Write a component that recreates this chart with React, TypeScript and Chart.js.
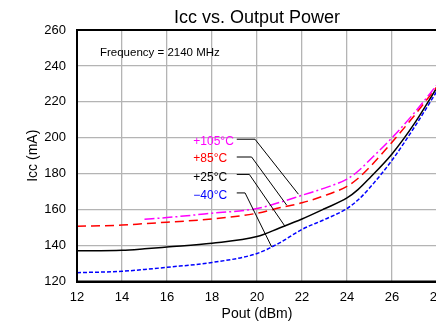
import React, { useEffect, useRef } from "react";
import { Chart, registerables } from "chart.js";

Chart.register(...registerables);

// ---- data ----
const poutDbm = [12, 14, 15, 16, 18, 20, 21, 22, 23, 24, 24.5, 25, 26, 27, 28];
const icc105 = [null, null, 154.7, 155.6, 158, 160.6, 164, 168, 172, 177, 181.5, 187.5, 200, 214, 229.5];
const icc85 = [150.8, 151.4, 152.2, 153.0, 154.8, 158, 161, 163.8, 167.8, 173, 177.5, 183.5, 197.5, 212.5, 228.5];
const icc25 = [137.1, 137.4, 138.2, 139.2, 141.3, 145, 149.8, 154.8, 160.5, 166.5, 171.3, 177.5, 191, 208, 228];
const iccM40 = [124.9, 125.7, 126.7, 127.9, 130.6, 135.6, 141.5, 149, 154.5, 160.6, 165.5, 172, 187.5, 206, 226];

const xTicks = [12, 14, 16, 18, 20, 22, 24, 26, 28];
const yTicks = [120, 140, 160, 180, 200, 220, 240, 260];

const tempLabels = ["+105°C", "+85°C", "+25°C", "\u221240°C"];
const tempColors = ["#ff00ff", "#ff0000", "#000000", "#0000ff"];
const labelX = [17.17, 17.17, 17.17, 17.17];
const labelY = [198.1, 188.1, 177.7, 167.5];
const leaderStartX = [19.1, 19.1, 19.1, 19.1];
const leaderY = [199.2, 189.3, 179.6, 169.3];
const leaderCornerX = [19.91, 19.76, 19.66, 19.47];
const leaderEndX = [21.84, 21.32, 21.24, 20.65];
const leaderEndY = [168.6, 162.5, 150.8, 139.3];

const freqText = "Frequency = 2140 MHz";
const freqX = 13.02;
const freqY = 247.5;

const FONT = "'Liberation Sans', Arial, sans-serif";

const annotationPlugin = {
  id: "annot",
  afterDatasetsDraw(chart: any) {
    const { ctx, chartArea, scales } = chart;
    const xs = scales.x;
    const ys = scales.y;
    ctx.save();
    // frame
    ctx.strokeStyle = "#000";
    ctx.lineWidth = 2;
    ctx.strokeRect(chartArea.left, chartArea.top, chartArea.right - chartArea.left, chartArea.bottom - chartArea.top);
    // frequency text
    ctx.fillStyle = "#000";
    ctx.font = `11.5px ${FONT}`;
    ctx.textAlign = "left";
    ctx.textBaseline = "middle";
    ctx.fillText(freqText, xs.getPixelForValue(freqX), ys.getPixelForValue(freqY));
    // temp labels + leaders
    ctx.font = `12px ${FONT}`;
    for (let i = 0; i < tempLabels.length; i++) {
      ctx.fillStyle = tempColors[i];
      ctx.fillText(tempLabels[i], xs.getPixelForValue(labelX[i]), ys.getPixelForValue(labelY[i]));
      ctx.strokeStyle = "#000";
      ctx.lineWidth = 1;
      ctx.beginPath();
      ctx.moveTo(xs.getPixelForValue(leaderStartX[i]), ys.getPixelForValue(leaderY[i]));
      ctx.lineTo(xs.getPixelForValue(leaderCornerX[i]), ys.getPixelForValue(leaderY[i]));
      ctx.lineTo(xs.getPixelForValue(leaderEndX[i]), ys.getPixelForValue(leaderEndY[i]));
      ctx.stroke();
    }
    ctx.restore();
  },
};

export default function App() {
  const ref = useRef<HTMLCanvasElement>(null);
  useEffect(() => {
    Chart.defaults.font.family = FONT;
    Chart.defaults.color = "#000";
    const mk = (label: string, data: any[], color: string, dash: number[], w: number) => ({
      label,
      data: poutDbm.map((x, i) => ({ x, y: data[i] })),
      borderColor: color,
      backgroundColor: color,
      borderWidth: w,
      borderDash: dash,
      pointRadius: 0,
      cubicInterpolationMode: "monotone" as const,
      spanGaps: false,
      fill: false,
    });
    const chart = new Chart(ref.current!, {
      type: "line",
      data: {
        datasets: [
          mk("+105°C", icc105, "#ff00ff", [10, 3, 2, 3], 1.5),
          mk("+85°C", icc85, "#ff0000", [9, 5], 1.5),
          mk("+25°C", icc25, "#000000", [], 1.5),
          mk("-40°C", iccM40, "#0000ff", [4, 2], 1.5),
        ],
      },
      options: {
        animation: false,
        responsive: true,
        maintainAspectRatio: false,
        layout: { padding: 0 },
        plugins: {
          legend: { display: false },
          tooltip: { enabled: false },
          title: {
            display: true,
            fullSize: false,
            text: "Icc vs. Output Power",
            color: "#000",
            font: { size: 18, weight: "normal" as any, family: FONT },
            padding: { top: 7, bottom: 1.4 },
          },
        },
        scales: {
          x: {
            type: "linear",
            min: 12,
            max: 28,
            afterBuildTicks: (s: any) => {
              s.ticks = xTicks.map((v) => ({ value: v }));
            },
            afterFit: (s: any) => {
              s.height = 41.5;
              s.paddingLeft = 0;
              s.paddingRight = 0;
            },
            ticks: { font: { size: 13 }, color: "#000", padding: 8, maxRotation: 0, autoSkip: false },
            grid: { color: "#b4b4b4", lineWidth: 1.3, drawTicks: false },
            border: { display: true, color: "#000", width: 2 },
            title: { display: true, text: "Pout (dBm)", font: { size: 14 }, color: "#000", padding: 0 },
          },
          y: {
            type: "linear",
            min: 120,
            max: 260,
            afterBuildTicks: (s: any) => {
              s.ticks = yTicks.map((v) => ({ value: v }));
            },
            afterFit: (s: any) => {
              s.width = 77;
              s.paddingTop = 0;
              s.paddingBottom = 0;
            },
            ticks: { font: { size: 13 }, color: "#000", padding: 11, autoSkip: false },
            grid: { color: "#b4b4b4", lineWidth: 1.3, drawTicks: false },
            border: { display: true, color: "#000", width: 2 },
            title: { display: true, text: "Icc (mA)", font: { size: 14 }, color: "#000", padding: { top: 24.6, bottom: 0 } },
          },
        },
      },
      plugins: [annotationPlugin],
    });
    return () => chart.destroy();
  }, []);
  return (
    <div style={{ position: "fixed", left: 0, top: 0, width: 436, height: 323, overflow: "hidden", background: "#fff" }}>
      <div style={{ position: "relative", width: 437, height: 323 }}>
        <canvas ref={ref} />
      </div>
    </div>
  );
}
